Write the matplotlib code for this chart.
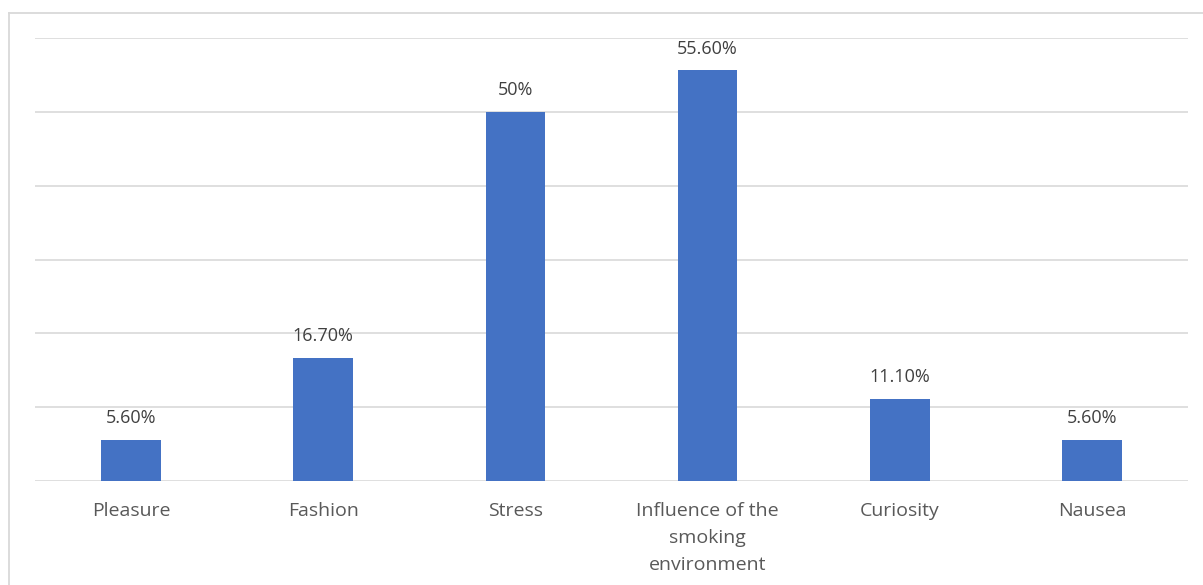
import matplotlib.pyplot as plt
from matplotlib.lines import Line2D

categories = ["Pleasure", "Fashion", "Stress", "Influence of the\nsmoking\nenvironment", "Curiosity", "Nausea"]
values = [5.6, 16.7, 50, 55.6, 11.1, 5.6]
value_labels = ["5.60%", "16.70%", "50%", "55.60%", "11.10%", "5.60%"]

plt.rcParams['font.family'] = ['Open Sans', 'DejaVu Sans']

fig = plt.figure(figsize=(12.03, 5.85), dpi=100)
# outer chart frame (left and top edges visible)
fx, fy = 8.5 / 1203, 1 - 12.5 / 585
fig.add_artist(Line2D([fx, fx], [0, fy], transform=fig.transFigure, color="#d9d9d9", linewidth=1.3))
fig.add_artist(Line2D([fx, 1], [fy, fy], transform=fig.transFigure, color="#d9d9d9", linewidth=1.3))

ax = fig.add_axes([35 / 1203, 1 - 481 / 585, (1188 - 35) / 1203, (481 - 38) / 585])

x = range(len(categories))
bars = ax.bar(x, values, width=0.31, color="#4472c4", zorder=3)
for b, lab in zip(bars, value_labels):
    ax.text(b.get_x() + b.get_width() / 2, b.get_height() + 1.7, lab,
            ha="center", va="bottom", fontsize=13, color="#404040")

ax.set_xlim(-0.5, len(categories) - 0.5)
ax.set_ylim(0, 60)
ax.set_yticks(range(0, 61, 10))
ax.yaxis.grid(True, color="#d9d9d9", linewidth=1.2, zorder=0)
ax.set_yticklabels([])
ax.tick_params(axis="y", length=0)
ax.tick_params(axis="x", length=0, pad=15, labelsize=14, labelcolor="#595959")
ax.set_xticks(list(x))
ax.set_xticklabels(categories, linespacing=1.65)
for s in ax.spines.values():
    s.set_visible(False)

fig.savefig("out.png", dpi=100)
